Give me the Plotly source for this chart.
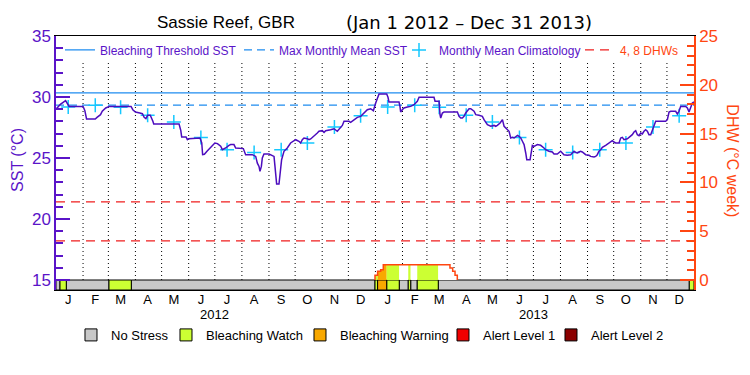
import pandas as pd
import plotly.graph_objects as go

START = pd.Timestamp("2012-01-01")
END = pd.Timestamp("2014-01-01")

# ---------------- data ----------------
# daily SST trace: day offset from 2012-01-01 and SST (deg C)
sst_day = [0, 5, 11, 15, 31, 33, 35, 45, 47, 51, 53, 57, 61, 86, 88, 91, 96, 99, 101, 103,
           105, 108, 111, 112, 141, 143, 144, 149, 150.5, 152, 165, 167, 168, 170, 173, 177,
           181, 182, 185, 188.7, 190.6, 194.4, 198.2, 200.1, 203.9, 205.9, 214.6, 217.3,
           224.9, 228.8, 230.7, 232.6, 233.7, 235.3, 236.4, 238.3, 244.1, 247.9, 249.8,
           250.9, 252.1, 252.8, 255.5, 256.2, 257.4, 258.5, 261.2, 265.0, 268.8, 272.7,
           274.6, 278.4, 280.3, 282.2, 284.1, 288.0, 289.9, 291.8, 295.6, 299.4, 301.3,
           305.1, 307.1, 309.0, 314.7, 318.5, 322.3, 324.2, 328.1, 330.0, 335.7, 337.6,
           339.5, 341.4, 345.3, 349.1, 352.9, 356.7, 360.5, 363.6, 366.3, 368.2,
           370.1, 378.9, 380.4, 381.5, 393.0, 394.1, 394.9, 396.8, 398.7, 402.6, 406.4,
           410.2, 412.1, 414.0, 416.0, 433.1, 434.3, 438.9, 440.0, 440.8, 442.7, 444.6,
           459.9, 461.8, 463.7, 465.6, 467.5, 469.4, 473.3, 475.2, 479.0, 480.9, 484.7,
           488.5, 490.4, 494.3, 498.1, 501.9, 503.8, 505.7, 508.8, 511.5, 513.4, 515.3,
           517.2, 519.1, 521.0, 522.9, 524.9, 526.8, 528.7, 530.6, 532.5, 534.4, 536.3,
           538.2, 539.4, 543.2, 543.9, 545.8, 547.8,
           551.5, 555.3, 557.2, 559.1, 561.0, 564.8, 568.7, 570.6, 574.4, 576.3, 578.2,
           580.1, 582.0, 585.8, 589.7, 591.6, 593.5, 595.4, 597.3, 599.2, 601.1, 603.0,
           605.0, 606.9, 610.7, 612.6, 616.4, 618.3, 620.2, 622.1, 624.1, 626.0, 629.8,
           633.6, 635.5, 637.4, 639.3, 641.2, 645.1, 647.0, 648.9, 650.8, 654.6, 656.5,
           660.3, 662.3, 664.2, 666.1, 668.0, 669.9, 671.8, 673.7, 675.6, 677.5, 679.4,
           681.4, 683.3, 685.2, 687.1, 698.5, 700.5, 702.4, 704.3, 710.0, 711.9, 713.8,
           715.7, 721.5, 723.4, 725.3, 727.2, 729.1, 731]
sst_val = [29.0, 29.4, 29.7, 29.23, 29.23, 28.9, 28.2, 28.2, 28.33, 28.55, 28.83, 29.10, 29.23,
           29.23, 28.96, 28.77, 28.69, 28.63, 28.33, 28.22, 28.50, 28.50, 28.01, 27.79, 27.79,
           27.24, 26.72, 26.72, 26.50, 26.58, 26.64, 26.23, 25.27, 25.30, 25.55, 25.82, 26.15,
           26.23, 26.18, 25.96, 25.68, 25.82, 26.04, 26.10, 26.10, 25.82, 25.77, 25.27,
           25.27, 25.13, 24.58, 24.31, 23.90, 24.31, 25.00, 25.33, 25.33, 25.22, 25.13,
           24.31, 23.63, 22.87, 22.87, 23.36, 24.18, 24.86, 25.55, 25.82, 26.23, 26.37,
           26.50, 26.37, 26.23, 26.50, 26.64, 26.58, 26.50, 26.56, 26.77, 27.05, 27.19,
           27.24, 27.10, 27.24, 27.32, 27.40, 27.19, 27.32, 27.67, 28.01, 28.01, 27.92,
           28.01, 28.14, 28.33, 28.41, 28.69, 28.96, 29.04, 28.88, 29.51, 29.92,
           30.25, 30.25, 29.98, 29.60, 29.60, 29.23, 28.77, 28.96, 29.10, 29.18, 29.23,
           29.37, 29.51, 29.65, 29.98, 29.98, 29.65, 29.65, 28.55, 28.28, 28.69, 28.77,
           28.77, 28.41, 28.28, 28.28, 28.41, 28.69, 29.04, 29.04, 28.83, 28.55, 28.50,
           28.41, 28.14, 27.73, 27.60, 27.67, 27.60, 27.67, 27.87, 28.14, 27.60, 27.46,
           27.40, 27.19, 26.64, 26.69, 26.64, 26.77, 26.86, 26.77, 26.64, 26.37, 26.10,
           25.41, 24.86, 24.86, 25.13, 26.04, 25.96,
           26.10, 26.04, 25.96, 25.82, 25.68, 25.55, 25.49, 25.33, 25.33, 25.41, 25.55,
           25.41, 25.27, 25.22, 25.27, 25.41, 25.55, 25.46, 25.41, 25.49, 25.55, 25.49,
           25.41, 25.27, 25.22, 25.13, 25.08, 25.13, 25.27, 25.55, 25.68, 25.88, 26.04,
           26.23, 26.37, 26.42, 26.31, 26.23, 26.23, 26.64, 26.69, 26.50, 26.58, 26.69,
           26.91, 27.13, 27.24, 26.91, 26.83, 27.05, 26.97, 27.19, 27.32, 27.19, 26.91,
           26.91, 27.32, 27.73, 28.01, 28.01, 28.14, 28.77, 28.83, 28.83, 28.61, 28.83,
           29.23, 29.23, 29.10, 28.77, 29.10, 29.51, 29.60]

# monthly mean climatology (deg C), Jan..Dec
clim_vals = [29.18, 29.32, 29.15, 28.50, 27.95, 26.69, 25.68, 25.46, 25.68, 26.23, 27.54, 28.47]
years = [2012, 2013]
month_letters = ["J", "F", "M", "A", "M", "J", "J", "A", "S", "O", "N", "D"]

mmm = 29.33                 # max monthly mean
bleach_threshold = 30.33    # bleaching threshold SST
dhw_levels = [4, 8]

# Degree heating weeks (step values; day offset where each value begins)
dhw_day = [365.5, 368.5, 372.0, 375.0, 451.4, 454.5, 457.2, 459.8]
dhw_val = [0.48, 0.89, 1.06, 1.57, 1.23, 0.89, 0.48, 0.0]

# Stress level segments (start day offset, level)
stress_start = [0, 4.6, 11.8, 60.7, 86.3, 365.5, 368.5, 378.9, 393.3, 403.6, 406.4, 413.9, 438.0, 725.6]
stress_level = [0, 1, 0, 1, 0, 1, 2, 1, 0, 1, 0, 1, 0, 1]
stress_names = ["No Stress", "Bleaching Watch", "Bleaching Warning", "Alert Level 1", "Alert Level 2"]
stress_colors = ["#c8c8c8", "#ccff33", "#f8a800", "#f00000", "#8b0000"]

# ---------------- styling ----------------
PURPLE = "#5a14c8"
LINE_PURPLE = "#4c0cbe"
BLUE = "#1e8cf0"
CYAN = "#14c8ff"
RED = "#f01e1e"
ORANGE = "#ff4611"
FONT = "Liberation Sans"

Y_MIN, Y_MAX = 14.18, 35
Y2_MIN, Y2_MAX = -1.025, 25
TOTAL_DAYS = (END - START).days

top_legend_widths = [134, 115, 136, 60]
bottom_legend_widths = [50, 89, 98, 63, 75]


def to_dates(days):
    return START + pd.to_timedelta(pd.Series(days, dtype=float), unit="D")


def dhw_at(t):
    v = 0.0
    for d, val in zip(dhw_day, dhw_val):
        if t >= d:
            v = val
    return v


fig = go.Figure()

# stress bar (bars on the SST axis below 15)
stress_end = stress_start[1:] + [TOTAL_DAYS]
for lvl, (name, col) in enumerate(zip(stress_names, stress_colors)):
    segs = [(a, b) for a, b, l in zip(stress_start, stress_end, stress_level) if l == lvl]
    mk = dict(color=col, line=dict(color="black", width=1))
    if segs:
        centers = to_dates([(a + b) / 2 for a, b in segs])
        widths = [(b - a) * 86400000 for a, b in segs]
        fig.add_trace(go.Bar(x=centers, y=[15 - Y_MIN] * len(segs), base=Y_MIN, width=widths,
                             marker=mk, name=name, legend="legend2", hoverinfo="skip",
                             legendwidth=bottom_legend_widths[lvl]))
    else:
        fig.add_trace(go.Bar(x=[None], y=[None], marker=mk, name=name, legend="legend2",
                             legendwidth=bottom_legend_widths[lvl]))

# dotted month separators
month_starts = pd.date_range("2012-02-01", "2013-12-01", freq="MS")
sep_x, sep_y = [], []
for m in month_starts:
    sep_x += [m, m, None]
    sep_y += [15, 32.79, None]
fig.add_trace(go.Scatter(x=sep_x, y=sep_y, mode="lines", showlegend=False, hoverinfo="skip",
                         line=dict(color="black", width=1, dash="1px,3px")))

# threshold lines
fig.add_trace(go.Scatter(x=[START, END], y=[bleach_threshold] * 2, mode="lines",
                         line=dict(color=BLUE, width=1.3), name="Bleaching Threshold SST",
                         legendwidth=top_legend_widths[0]))
fig.add_trace(go.Scatter(x=[START, END], y=[mmm] * 2, mode="lines",
                         line=dict(color=BLUE, width=1.3, dash="8px,5px"), name="Max Monthly Mean SST",
                         legendwidth=top_legend_widths[1]))

# climatology
clim_x = [pd.Timestamp(f"{y}-{m:02d}-15") for y in years for m in range(1, 13)]
clim_y = [v for _ in years for v in clim_vals]
fig.add_trace(go.Scatter(x=clim_x, y=clim_y, mode="markers", name="Monthly Mean Climatology",
                         marker=dict(symbol="cross-thin", size=10, line=dict(color=CYAN, width=1.5)),
                         legendwidth=top_legend_widths[2]))

# DHW threshold lines
dx, dy = [], []
for lv in dhw_levels:
    dx += [START, END, None]
    dy += [lv, lv, None]
fig.add_trace(go.Scatter(x=dx, y=dy, yaxis="y2", mode="lines",
                         line=dict(color=RED, width=1.3, dash="9px,6px"),
                         name=f"<span style='color:{ORANGE}'>4, 8 DHWs</span>",
                         legendwidth=top_legend_widths[3]))

# DHW fill coloured by stress level
for a, b, lvl in zip(stress_start, stress_end, stress_level):
    a2, b2 = max(a, dhw_day[0]), min(b, dhw_day[-1])
    if a2 >= b2:
        continue
    xs, ys = [a2, a2], [0, dhw_at(a2)]
    for d in dhw_day:
        if a2 < d < b2:
            xs += [d, d]
            ys += [dhw_at(d - 1e-6), dhw_at(d)]
    xs += [b2, b2]
    ys += [dhw_at(b2 - 1e-6), 0]
    col = "white" if lvl == 0 else stress_colors[lvl]
    fig.add_trace(go.Scatter(x=to_dates(xs), y=ys, yaxis="y2", mode="lines", fill="toself",
                             fillcolor=col, line=dict(width=0), showlegend=False, hoverinfo="skip"))

# DHW outline
fig.add_trace(go.Scatter(x=to_dates([dhw_day[0]] + dhw_day), y=[0] + dhw_val, yaxis="y2", mode="lines",
                         line=dict(color=ORANGE, width=1.5, shape="hv"), showlegend=False))

# SST
fig.add_trace(go.Scatter(x=to_dates(sst_day), y=sst_val, mode="lines",
                         line=dict(color=LINE_PURPLE, width=1.5), showlegend=False))

# ---------------- layout ----------------
# the page body adds an 8 px offset, so the figure is 8 px smaller with a smaller left/top margin
mid_months = [pd.Timestamp(f"{y}-{m:02d}-15") for y in years for m in range(1, 13)]
fig.update_layout(
    width=742, height=367,
    margin=dict(l=48, r=56, t=28, b=85, autoexpand=False),
    paper_bgcolor="white", plot_bgcolor="white",
    font=dict(family=FONT, color="black"),
    barmode="overlay",
    xaxis=dict(range=[START, END], showgrid=False, zeroline=False, automargin=False,
               showline=True, linecolor="black", linewidth=1, mirror=True,
               tickmode="array", tickvals=mid_months, ticktext=month_letters * 2,
               ticks="", ticklen=0, ticklabelstandoff=-3, tickfont=dict(size=13, color="black")),
    yaxis=dict(range=[Y_MIN, Y_MAX], showgrid=False, zeroline=False, automargin=False,
               showline=True, linecolor=PURPLE, linewidth=1.5,
               tickmode="array", tickvals=[15, 20, 25, 30, 35],
               ticks="inside", ticklen=14, tickwidth=1.5, tickcolor=PURPLE,
               minor=dict(tickmode="array", tickvals=list(range(15, 36)), ticks="inside",
                          ticklen=7, tickwidth=1.5, tickcolor=PURPLE),
               tickfont=dict(size=17, color=PURPLE)),
    yaxis2=dict(range=[Y2_MIN, Y2_MAX], overlaying="y", side="right", showgrid=False, zeroline=False,
                automargin=False, showline=True, linecolor=ORANGE, linewidth=1.5,
                tickmode="array", tickvals=[0, 5, 10, 15, 20, 25],
                ticks="inside", ticklen=14, tickwidth=1.5, tickcolor=ORANGE,
                minor=dict(tickmode="array", tickvals=list(range(0, 26)), ticks="inside",
                           ticklen=7, tickwidth=1.5, tickcolor=ORANGE),
                tickfont=dict(size=17, color=ORANGE)),
    legend=dict(orientation="h", x=0.00627, y=0.945, xanchor="left", yanchor="middle",
                bgcolor="rgba(0,0,0,0)", font=dict(size=12, color=PURPLE),
                itemclick=False, itemdoubleclick=False),
    legend2=dict(orientation="h", x=0.0235, y=-0.177, xanchor="left", yanchor="middle",
                 bgcolor="rgba(0,0,0,0)", font=dict(size=13, color="black"),
                 itemclick=False, itemdoubleclick=False),
    showlegend=True,
)

annos = [
    dict(text="Sassie Reef, GBR", x=0.2665, y=1.055, size=17, color="black", angle=0, family=FONT),
    dict(text="(Jan 1 2012 – Dec 31 2013)", x=0.647, y=1.055, size=18, color="black", angle=0,
         family="DejaVu Sans"),
    dict(text="SST (°C)", x=-0.0596, y=0.512, size=16, color=PURPLE, angle=-90, family=FONT),
    dict(text="DHW (°C week)", x=1.059, y=0.508, size=16, color=ORANGE, angle=90, family=FONT),
]
for a in annos:
    fig.add_annotation(text=a["text"], x=a["x"], y=a["y"], xref="paper", yref="paper",
                       xanchor="center", yanchor="middle", showarrow=False, textangle=a["angle"],
                       font=dict(size=a["size"], color=a["color"], family=a["family"]))
for y in years:
    fig.add_annotation(text=str(y), x=pd.Timestamp(f"{y}-07-01"), y=-0.0945, xref="x", yref="paper",
                       xanchor="center", yanchor="middle", showarrow=False,
                       font=dict(size=13, color="black", family=FONT))

fig.write_html("out.html")
